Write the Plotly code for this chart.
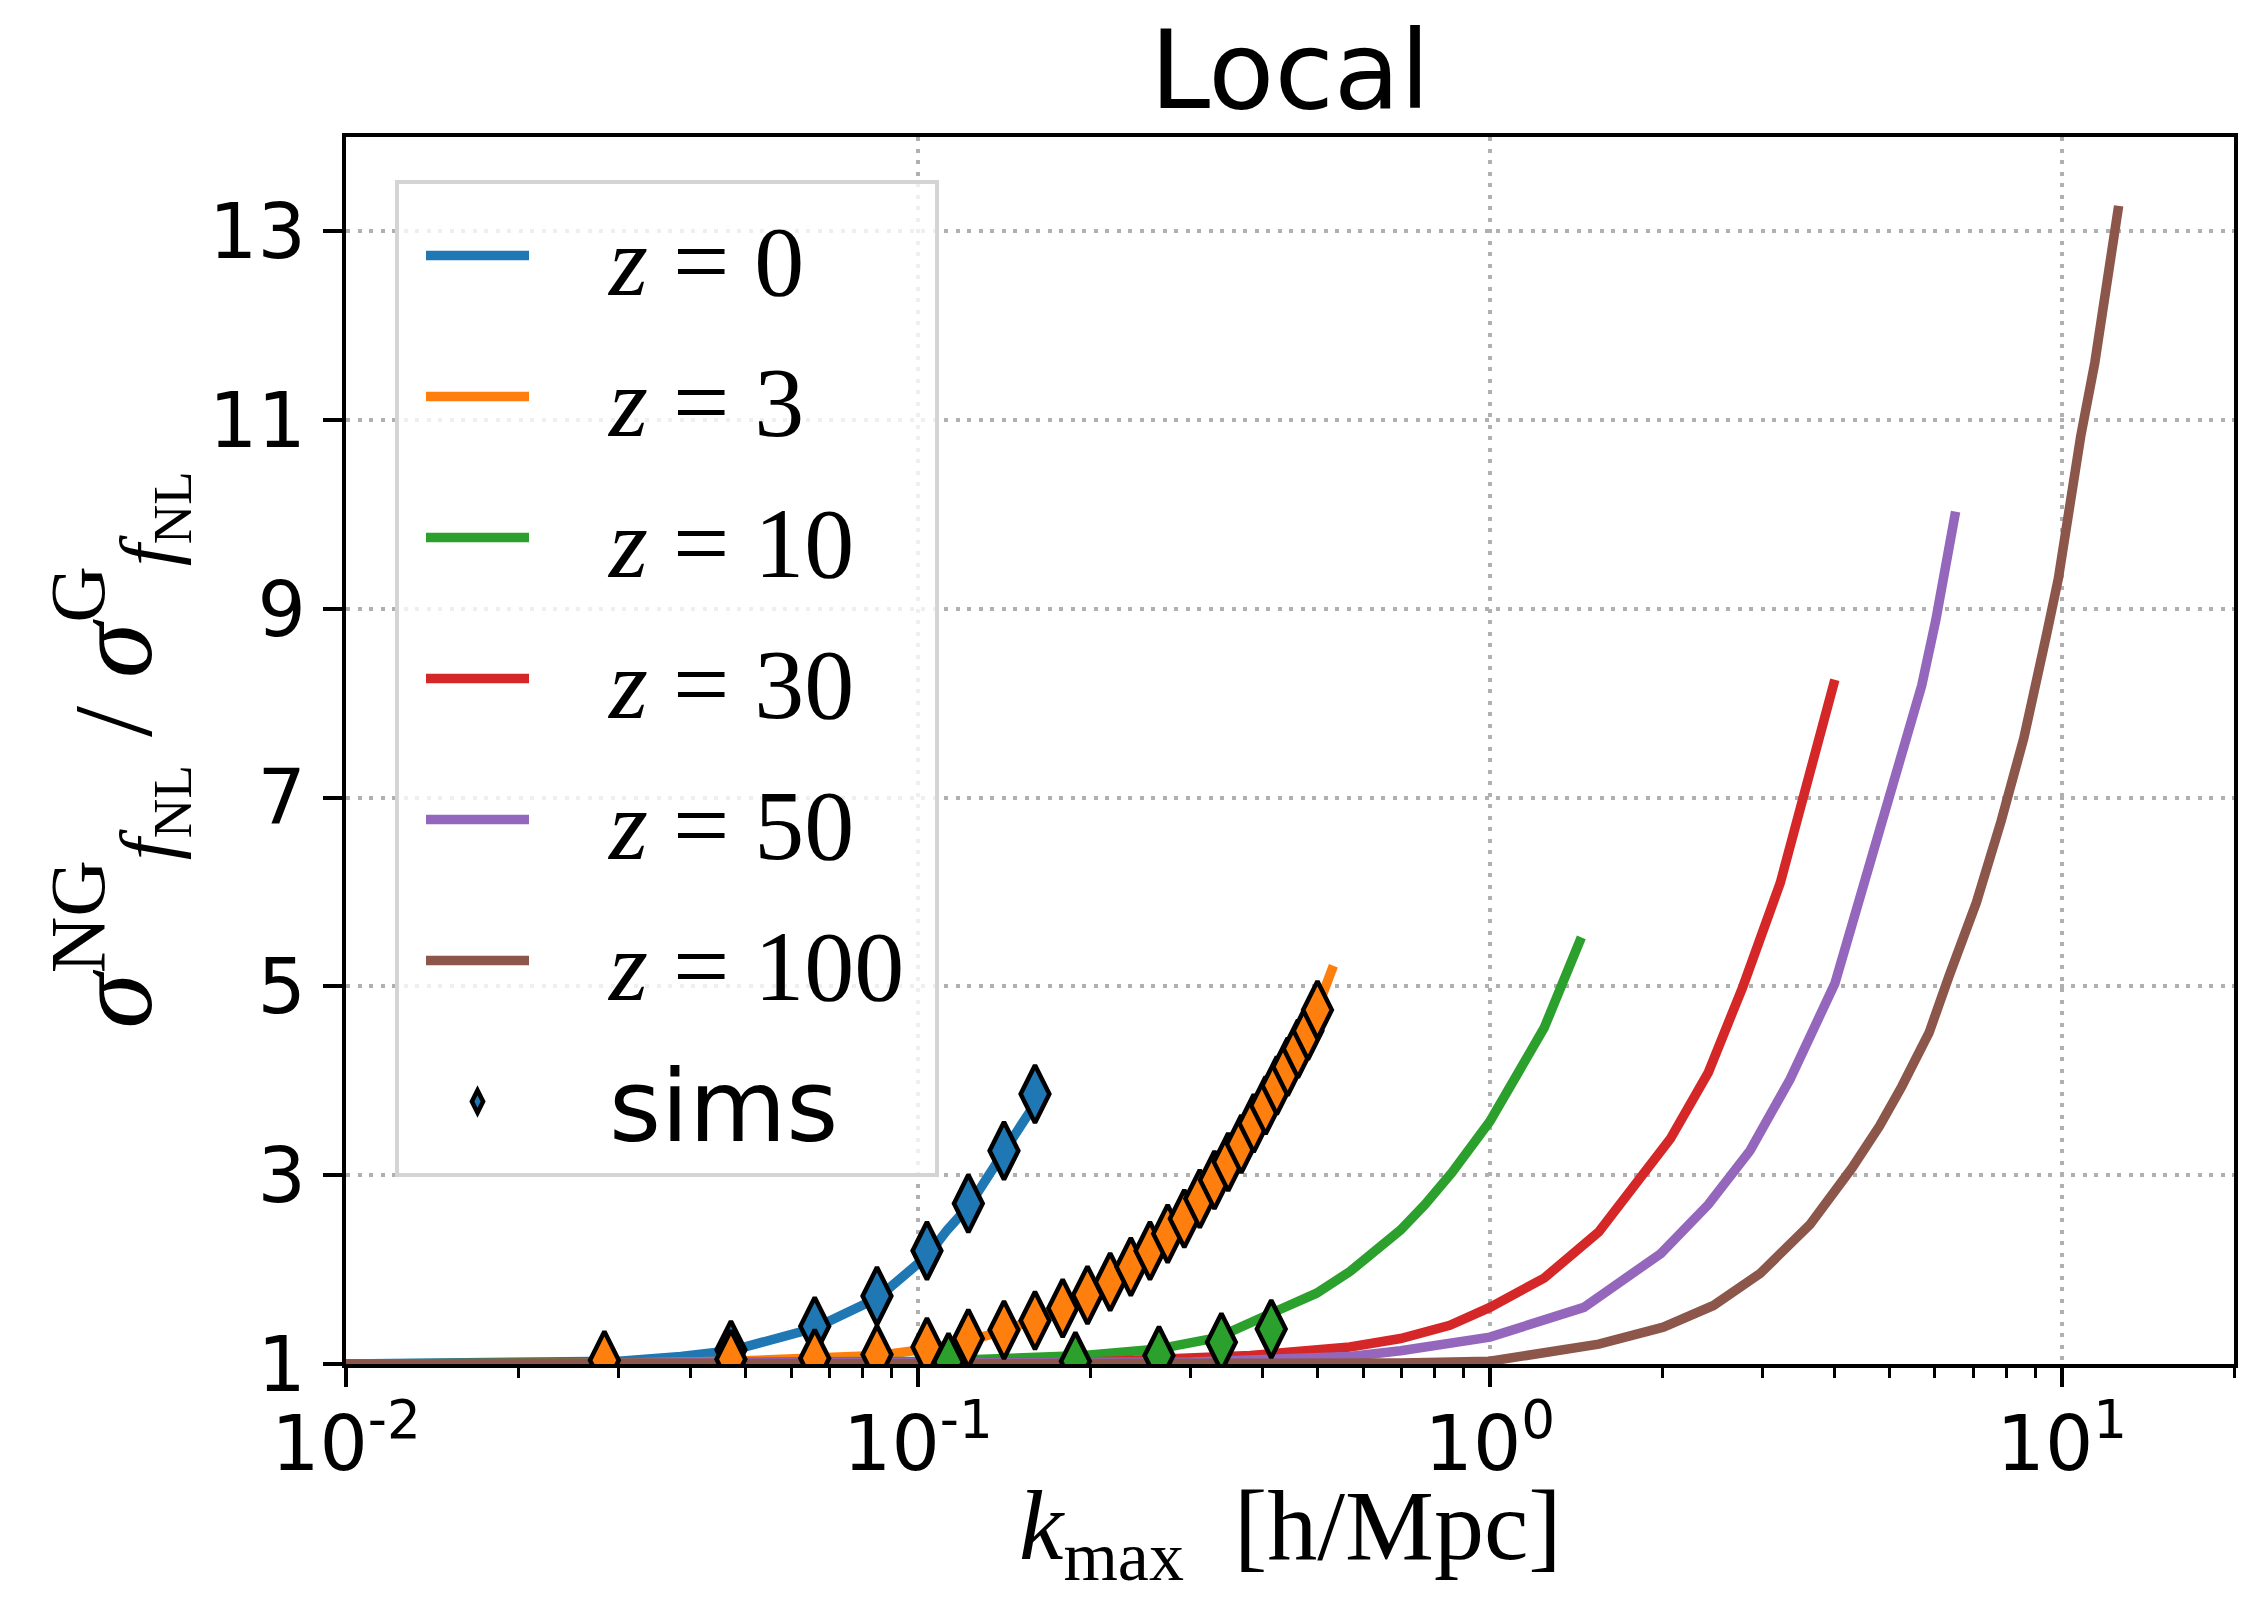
import plotly.graph_objects as go

# ---------------- data ----------------
z_labels = ["0", "3", "10", "30", "50", "100"]
colors = ["#1f77b4", "#ff7f0e", "#2ca02c", "#d62728", "#9467bd", "#8c564b"]

k_z0 = [0.01, 0.02, 0.03, 0.0385, 0.047, 0.066, 0.085, 0.104, 0.1125, 0.123, 0.1322, 0.141, 0.1511, 0.160, 0.168]
s_z0 = [1.0, 1.005, 1.03, 1.08, 1.14, 1.38, 1.70, 2.15, 2.42, 2.68, 2.96, 3.22, 3.52, 3.75, 3.92]

k_z3 = [0.01, 0.02, 0.03, 0.047, 0.066, 0.085, 0.104, 0.123, 0.141, 0.160, 0.179, 0.198, 0.217, 0.236,
        0.255, 0.273, 0.292, 0.311, 0.330, 0.349, 0.368, 0.386, 0.405, 0.424, 0.443, 0.462, 0.481, 0.500, 0.5325]
s_z3 = [1.0, 1.0, 1.01, 1.03, 1.05, 1.09, 1.16, 1.25, 1.35, 1.46, 1.58, 1.72, 1.87, 2.03,
        2.20, 2.37, 2.55, 2.75, 2.95, 3.14, 3.34, 3.55, 3.75, 3.96, 4.16, 4.36, 4.56, 4.78, 5.22]

k_z10 = [0.01, 0.05, 0.1, 0.13, 0.195, 0.2636, 0.3337, 0.4157, 0.4977, 0.5694, 0.6083, 0.698, 0.77, 0.859, 1.0, 1.114, 1.244, 1.445]
s_z10 = [1.0, 1.005, 1.03, 1.05, 1.09, 1.16, 1.28, 1.54, 1.75, 1.98, 2.12, 2.42, 2.69, 3.03, 3.57, 4.05, 4.56, 5.52]

k_z30 = [0.01, 0.1, 0.2, 0.381, 0.569, 0.698, 0.851, 1.0, 1.244, 1.55, 1.856, 2.07, 2.41, 2.77, 3.22, 3.70, 4.01]
s_z30 = [1.0, 1.0, 1.02, 1.09, 1.18, 1.27, 1.41, 1.60, 1.91, 2.40, 3.0, 3.39, 4.09, 5.0, 6.10, 7.48, 8.25]

k_z50 = [0.01, 0.1, 0.3, 0.569, 0.698, 1.0, 1.46, 1.99, 2.41, 2.85, 3.35, 4.01, 4.61, 5.05, 5.69, 6.02, 6.52]
s_z50 = [1.0, 1.0, 1.02, 1.08, 1.14, 1.285, 1.60, 2.17, 2.69, 3.26, 4.02, 5.03, 6.28, 7.09, 8.19, 8.88, 10.03]

k_z100 = [0.01, 0.3, 0.7, 1.0, 1.55, 2.01, 2.46, 2.97, 3.63, 4.30, 4.80, 5.25, 5.86, 6.35, 7.09, 7.83,
          8.58, 9.39, 9.86, 10.79, 11.42, 12.57]
s_z100 = [1.0, 1.0, 1.01, 1.03, 1.21, 1.39, 1.62, 1.96, 2.48, 3.08, 3.52, 3.94, 4.51, 5.11, 5.89, 6.75,
          7.63, 8.71, 9.32, 10.83, 11.61, 13.27]

sims_k_z0 = [0.0471, 0.0660, 0.0848, 0.1037, 0.1225, 0.1414, 0.1602]
sims_s_z0 = [1.15, 1.40, 1.72, 2.20, 2.70, 3.26, 3.86]

sims_k_z3 = [0.0283, 0.0471, 0.0660, 0.0848, 0.1037, 0.1225, 0.1414, 0.1602, 0.1791, 0.1979, 0.2168, 0.2356, 0.2545,
             0.2733, 0.2922, 0.3110, 0.3299, 0.3487, 0.3676, 0.3864, 0.4053, 0.4241, 0.4430, 0.4618, 0.4807, 0.4995]
sims_s_z3 = [1.04, 1.05, 1.06, 1.10, 1.18, 1.27, 1.36, 1.46, 1.59, 1.73, 1.87, 2.03, 2.20,
             2.38, 2.54, 2.75, 2.95, 3.14, 3.33, 3.55, 3.74, 3.95, 4.15, 4.34, 4.53, 4.75]

sims_k_z10 = [0.1131, 0.1885, 0.2639, 0.3393, 0.4147]
sims_s_z10 = [1.02, 1.03, 1.09, 1.23, 1.37]

x_tick_vals = [0.01, 0.1, 1, 10]
x_tick_text = ["10<sup>-2</sup>", "10<sup>-1</sup>", "10<sup>0</sup>", "10<sup>1</sup>"]
y_tick_vals = [1, 3, 5, 7, 9, 11, 13]

# ---------------- figure ----------------
# page body has an 8px margin; the figure is sized so that it fits the window exactly
OFF = 8
W, H = 2263 - 2 * OFF, 1609 - 2 * OFF
ML, MT = 346 - OFF, 137 - OFF
PW, PH = 1888, 1227
MR, MB = W - ML - PW, H - MT - PH
SANS = "DejaVu Sans"
SERIF = "Liberation Serif"

fig = go.Figure()

curve_k = [k_z0, k_z3, k_z10, k_z30, k_z50, k_z100]
curve_s = [s_z0, s_z3, s_z10, s_z30, s_z50, s_z100]
for zl, col, kk, ss in zip(z_labels, colors, curve_k, curve_s):
    fig.add_trace(go.Scatter(
        x=kk, y=ss, mode="lines",
        line=dict(color=col, width=9.5),
        name=f"&nbsp;&nbsp;&nbsp;<i>z</i> = {zl}&nbsp;",
        legendgroup="z" + zl,
    ))

sims_k = [sims_k_z0, sims_k_z3, sims_k_z10]
sims_s = [sims_s_z0, sims_s_z3, sims_s_z10]
for i, (kk, ss) in enumerate(zip(sims_k, sims_s)):
    fig.add_trace(go.Scatter(
        x=kk, y=ss, mode="markers",
        marker=dict(symbol="diamond-tall", size=41, color=colors[i],
                    line=dict(color="black", width=4.5)),
        name=f"&nbsp;&nbsp;&nbsp;<span style='font-family:{SANS}'>sims</span>",
        legendgroup="sims",
        showlegend=(i == 0),
    ))

minor_vals = []
for dec in [0.01, 0.1, 1, 10]:
    for m in range(2, 10):
        v = m * dec
        if v <= 20:
            minor_vals.append(v)

grid_dash = "4px,7.5px"

fig.update_xaxes(
    type="log", range=[-2, 1.30103],
    tickmode="array", tickvals=x_tick_vals, ticktext=x_tick_text,
    ticks="outside", ticklen=19, tickwidth=4, tickcolor="black",
    tickfont=dict(family=SANS, size=76, color="black"),
    ticklabelstandoff=-8,
    showline=True, linecolor="black", linewidth=4, mirror=True,
    showgrid=True, gridcolor="#b0b0b0", gridwidth=3.5, griddash=grid_dash,
    zeroline=False,
    minor=dict(tickmode="array", tickvals=minor_vals, ticks="outside", ticklen=10,
               tickwidth=3, tickcolor="black", showgrid=False),
)
fig.update_yaxes(
    range=[1, 14],
    tickmode="array", tickvals=y_tick_vals,
    ticks="outside", ticklen=19, tickwidth=4, tickcolor="black",
    tickfont=dict(family=SANS, size=76, color="black"),
    ticklabelstandoff=2,
    showline=True, linecolor="black", linewidth=4, mirror=True,
    showgrid=True, gridcolor="#b0b0b0", gridwidth=3.5, griddash=grid_dash,
    zeroline=False,
)

fig.update_layout(
    width=W, height=H,
    margin=dict(l=ML, r=MR, t=MT, b=MB, pad=0),
    paper_bgcolor="white", plot_bgcolor="white",
    title=dict(text="Local", font=dict(family=SANS, size=108, color="black"),
               x=(ML + PW / 2) / W, xanchor="center",
               y=1 - 62 / H, yanchor="middle"),
    showlegend=True,
    legend=dict(
        x=(395 - OFF - ML) / PW, y=1 - (180 - OFF - MT) / PH,
        xanchor="left", yanchor="top",
        bgcolor="rgba(255,255,255,0.8)", bordercolor="#d4d4d4", borderwidth=4,
        font=dict(family=SERIF, size=100, color="black"),
        traceorder="grouped", tracegroupgap=8, itemwidth=103, indentation=22,
    ),
    annotations=[
        dict(text="<i>k</i><sub>max</sub>&nbsp;&nbsp;[h/Mpc]", xref="paper", yref="paper",
             x=0.5, y=-(1524 - (MT + PH)) / PH, xanchor="center", yanchor="middle",
             showarrow=False, font=dict(family=SERIF, size=100, color="black")),
        dict(text="<i>σ</i><sup>NG</sup><sub><i>f</i><sub>NL</sub></sub> / <i>σ</i><sup>G</sup><sub><i>f</i><sub>NL</sub></sub>",
             xref="paper", yref="paper",
             x=-(ML - 110) / PW, y=0.5, xanchor="center", yanchor="middle",
             textangle=-90, showarrow=False,
             font=dict(family=SERIF, size=112, color="black")),
    ],
)

fig.write_html("out.html")
